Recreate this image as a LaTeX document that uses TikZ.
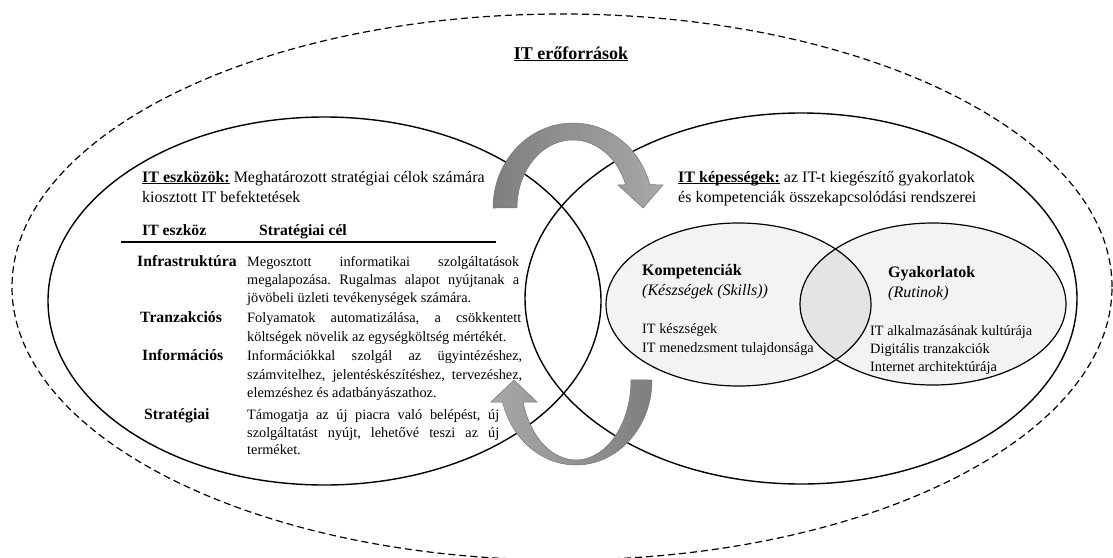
\documentclass[tikz,border=0pt]{standalone}
\usepackage{fontspec}
\setmainfont{Liberation Serif}
\frenchspacing
\definecolor{venn}{HTML}{F3F3F3}
\definecolor{lens}{HTML}{E4E4E4}
\definecolor{arrowdark}{HTML}{7F7F7F}
\definecolor{arrowlight}{HTML}{A8A8A8}
\definecolor{arrowedge}{HTML}{757575}
% underline with a slightly heavier rule
\newsavebox{\undlbox}
\newcommand{\undl}[1]{\sbox{\undlbox}{#1}\rlap{\rule[-2.4pt]{\wd\undlbox}{1.0pt}}\usebox{\undlbox}}
% a fully justified line of a given width
\newcommand{\justline}[2]{\makebox[#1][s]{#2}}
\begin{document}
\begin{tikzpicture}[x=1pt,y=1pt,
  ring/.style={line width=1.4pt},
  dashedring/.style={line width=1.2pt, dash pattern=on 7pt off 4pt},
  vennfill/.style={fill=venn},
  vennline/.style={line width=1.2pt},
  tablerule/.style={line width=1.2pt},
  txt/.style={anchor=base west, inner sep=0pt, font=\fontsize{14.3}{18}\selectfont},
  head/.style={anchor=base west, inner sep=0pt, font=\fontsize{16}{20}\selectfont},
  lbl/.style={anchor=base west, inner sep=0pt, font=\fontsize{15.7}{20}\selectfont\bfseries},
  topturn/.style={left color=arrowdark, right color=arrowlight, draw=arrowedge, line width=0.5pt},
  bottomturn/.style={left color=arrowlight, right color=arrowdark, draw=arrowedge, line width=0.5pt},
]
\path[use as bounding box, fill=white] (0,0) rectangle (1113,-557);

% outer boundary of IT resources
\draw[dashedring] (562,-287) ellipse[x radius=550, y radius=273];

% the two main sets
\draw[ring] (324.5,-301) ellipse[x radius=276.5, y radius=184];
\draw[ring] (801,-298.5) ellipse[x radius=276, y radius=185.5];

% competences / practices Venn pair
\path[vennfill] (738.5,-304.5) ellipse[x radius=132.5, y radius=81.5];
\path[vennfill] (933,-304) ellipse[x radius=133, y radius=81];
\begin{scope}
  \clip (738.5,-304.5) ellipse[x radius=132.5, y radius=81.5];
  \fill[lens] (933,-304) ellipse[x radius=133, y radius=81];
\end{scope}
\draw[vennline] (738.5,-304.5) ellipse[x radius=132.5, y radius=81.5];
\draw[vennline] (933,-304) ellipse[x radius=133, y radius=81];

% curved arrow over the top, pointing down into the right set
\path[topturn] (493,-208) arc[start angle=180, end angle=16, x radius=80, y radius=85]
  -- (663,-185) -- (643,-208) -- (618,-185) -- (625.6,-184.7)
  arc[start angle=20, end angle=180, x radius=56, y radius=68] -- cycle;

% curved arrow underneath, pointing up into the left set
\path[bottomturn] (652,-380) arc[start angle=0, end angle=-165, x radius=76, y radius=85]
  -- (491,-402) -- (514,-380) -- (537,-402) -- (523.1,-402)
  arc[start angle=-164, end angle=0, x radius=55, y radius=80] -- cycle;

% title
\node[anchor=base, inner sep=0pt, font=\fontsize{18}{22}\selectfont\bfseries] (title) at (571,-59) {\undl{IT erőforrások}};

% IT assets
\node[head] (eszk1) at (142,-182) {\undl{\textbf{IT eszközök:}} Meghatározott stratégiai célok számára};
\node[head] (eszk2) at (142,-202) {kiosztott IT befektetések};

\node[lbl] (hdA) at (142,-235) {IT eszköz};
\node[lbl] (hdB) at (259,-235) {Stratégiai cél};
\draw[tablerule] (121,-242) -- (496,-242);

\node[lbl] (infra) at (137,-266.5) {Infrastruktúra};
\node[txt] (infra1) at (247,-266.5) {\justline{272pt}{Megosztott informatikai szolgáltatások}};
\node[txt] (infra2) at (247,-284.5) {\justline{272pt}{megalapozása. Rugalmas alapot nyújtanak a}};
\node[txt] (infra3) at (247,-302.5) {jövöbeli üzleti tevékenységek számára.};

\node[lbl] (tranz) at (140,-322.5) {Tranzakciós};
\node[txt] (tranz1) at (247,-322.5) {\justline{274pt}{Folyamatok automatizálása, a csökkentett}};
\node[txt] (tranz2) at (247,-341.5) {költségek növelik az egységköltség mértékét.};

\node[lbl] (info) at (142,-360.5) {Információs};
\node[txt] (info1) at (247,-360.5) {\justline{275pt}{Információkkal szolgál az ügyintézéshez,}};
\node[txt] (info2) at (247,-379.5) {\justline{275pt}{számvitelhez, jelentéskészítéshez, tervezéshez,}};
\node[txt] (info3) at (247,-397.5) {elemzéshez és adatbányászathoz.};

\node[lbl] (strat) at (144,-419.5) {Stratégiai};
\node[txt] (strat1) at (247,-419.5) {\justline{252pt}{Támogatja az új piacra való belépést, új}};
\node[txt] (strat2) at (247,-437.5) {\justline{252pt}{szolgáltatást nyújt, lehetővé teszi az új}};
\node[txt] (strat3) at (247,-454.5) {terméket.};

% IT capabilities
\node[head] (kep1) at (678,-182) {\undl{\textbf{IT képességek:}} az IT-t kiegészítő gyakorlatok};
\node[head] (kep2) at (678,-202) {és kompetenciák összekapcsolódási rendszerei};

\node[head] (komp) at (642,-275) {\textbf{Kompetenciák}};
\node[head] (kompsub) at (642,-295) {\textit{(Készségek (Skills))}};
\node[txt] (komp1) at (642,-333) {IT készségek};
\node[txt] (komp2) at (642,-352) {IT menedzsment tulajdonsága};

\node[head] (gyak) at (888,-277) {\textbf{Gyakorlatok}};
\node[head] (gyaksub) at (888,-297) {\textit{(Rutinok)}};
\node[txt] (gyak1) at (870,-335) {IT alkalmazásának kultúrája};
\node[txt] (gyak2) at (870,-353) {Digitális tranzakciók};
\node[txt] (gyak3) at (870,-371) {Internet architektúrája};
\end{tikzpicture}
\end{document}
